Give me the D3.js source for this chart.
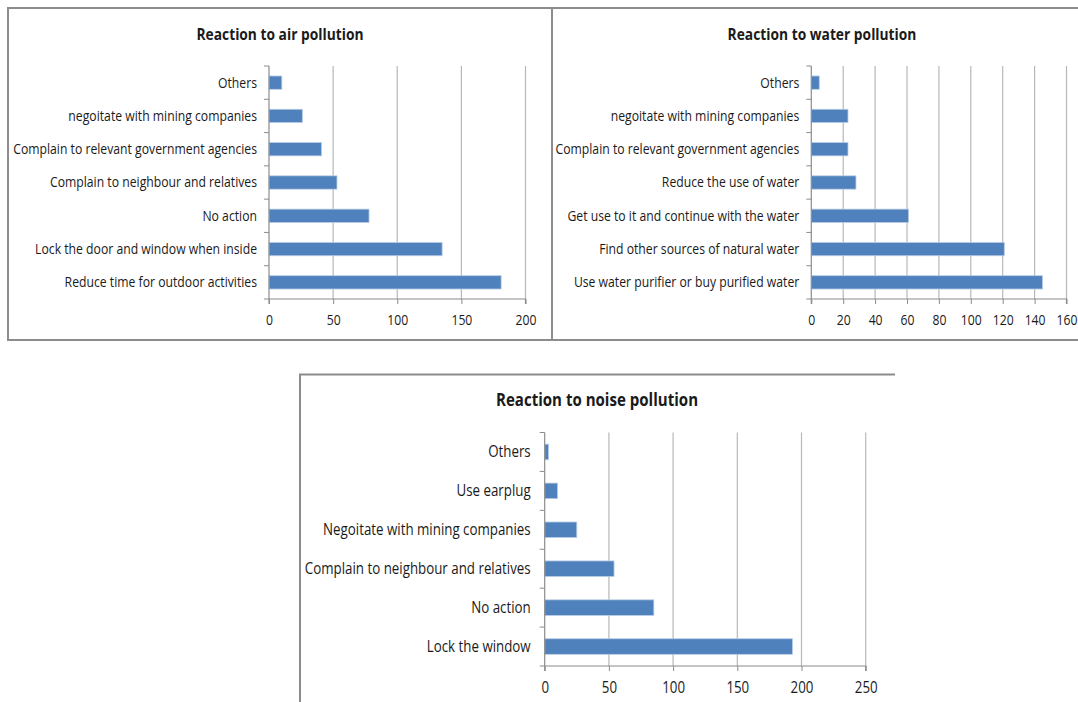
<!DOCTYPE html>
<html>
<head>
<meta charset="utf-8">
<script src="https://cdn.jsdelivr.net/npm/d3@7"></script>
<style>
  html, body { margin: 0; padding: 0; background: #fff; }
  svg { display: block; }
  text { font-family: "Open Sans", "Liberation Sans", sans-serif; fill: #1a1a1a; }
</style>
</head>
<body>
<svg id="chart" width="1078" height="702"></svg>
<script>
// Survey responses: how residents react to each kind of pollution (counts).
const airCategories = [
  "Others",
  "negoitate with mining companies",
  "Complain to relevant government agencies",
  "Complain to neighbour and relatives",
  "No action",
  "Lock the door and window when inside",
  "Reduce time for outdoor activities"
];
const airValues = [10, 26, 41, 53, 78, 135, 181];
const airTicks = [0, 50, 100, 150, 200];

const waterCategories = [
  "Others",
  "negoitate with mining companies",
  "Complain to relevant government agencies",
  "Reduce the use of water",
  "Get use to it and continue with the water",
  "Find other sources of natural water",
  "Use water purifier or buy purified water"
];
const waterValues = [5, 23, 23, 28, 61, 121, 145];
const waterTicks = [0, 20, 40, 60, 80, 100, 120, 140, 160];

const noiseCategories = [
  "Others",
  "Use earplug",
  "Negoitate with mining companies",
  "Complain to neighbour and relatives",
  "No action",
  "Lock the window"
];
const noiseValues = [3, 10, 25, 54, 85, 193];
const noiseTicks = [0, 50, 100, 150, 200, 250];

// horizontal squeeze that gives the text a condensed look
const SQUEEZE = 0.86;

const svg = d3.select("#chart");

// Panel frames
const frame = svg.append("g")
  .attr("fill", "none")
  .attr("stroke", "#8c8c8c")
  .attr("stroke-width", 2);
frame.append("path").attr("d", "M1078,8 H8 V340 H1078");
frame.append("line").attr("x1", 552).attr("x2", 552).attr("y1", 8).attr("y2", 340);
frame.append("path").attr("d", "M300,702 V374.5 H895");

function drawPanel(cfg) {
  const { title, categories, values, ticks, x0, x1, y0, y1, titleX, titleY, fs, labelGap, tickPad } = cfg;
  const g = svg.append("g");

  const x = d3.scaleLinear()
    .domain([ticks[0], ticks[ticks.length - 1]])
    .range([x0, x1]);
  const y = d3.scaleBand()
    .domain(categories)
    .range([y0, y1])
    .paddingInner(0.6)
    .paddingOuter(0.3);

  // title
  g.append("g")
    .attr("transform", `translate(${titleX},${titleY}) scale(${SQUEEZE},1)`)
    .append("text")
    .attr("text-anchor", "middle")
    .attr("font-weight", "bold")
    .attr("font-size", fs * 1.13)
    .text(title);

  // vertical gridlines
  g.append("g")
    .selectAll("line")
    .data(ticks.slice(1))
    .join("line")
    .attr("x1", d => x(d)).attr("x2", d => x(d))
    .attr("y1", y0).attr("y2", y1)
    .attr("stroke", "#b8b8b8")
    .attr("stroke-width", 1.2);

  // bars
  g.append("g")
    .selectAll("rect")
    .data(values)
    .join("rect")
    .attr("x", x(0))
    .attr("y", (d, i) => y(categories[i]))
    .attr("width", d => x(d) - x(0))
    .attr("height", y.bandwidth())
    .attr("fill", "#4f81bd")
    .attr("stroke", "#b9cde5")
    .attr("stroke-width", 0.8);

  // value axis along the bottom
  const xAxis = d3.axisBottom(x)
    .tickValues(ticks)
    .tickSize(5)
    .tickPadding(tickPad)
    .tickFormat(d3.format("d"));
  const xa = g.append("g")
    .attr("transform", `translate(0,${y1})`)
    .call(xAxis);
  xa.select(".domain").attr("stroke", "#8c8c8c").attr("stroke-width", 1.2)
    .attr("d", `M${x0},5V0H${x1}V5`);
  xa.selectAll(".tick line").attr("stroke", "#8c8c8c");
  xa.selectAll(".tick text")
    .attr("font-family", "'Open Sans', sans-serif")
    .attr("font-size", fs)
    .attr("fill", "#1a1a1a")
    .attr("transform", `scale(${SQUEEZE},1)`);

  // category axis on the left, tick marks on band boundaries
  const ya = g.append("g");
  ya.append("line")
    .attr("x1", x0).attr("x2", x0)
    .attr("y1", y0).attr("y2", y1)
    .attr("stroke", "#8c8c8c").attr("stroke-width", 1.2);
  const step = (y1 - y0) / categories.length;
  ya.selectAll("line.tk")
    .data(d3.range(categories.length + 1))
    .join("line")
    .attr("class", "tk")
    .attr("x1", x0 - 5).attr("x2", x0)
    .attr("y1", i => y0 + i * step).attr("y2", i => y0 + i * step)
    .attr("stroke", "#8c8c8c");
  ya.selectAll("g.lbl")
    .data(categories)
    .join("g")
    .attr("class", "lbl")
    .attr("transform", d => `translate(${x0 - labelGap},${y(d) + y.bandwidth() / 2}) scale(${SQUEEZE},1)`)
    .append("text")
    .attr("dy", "0.35em")
    .attr("text-anchor", "end")
    .attr("font-size", fs)
    .text(d => d);
}

drawPanel({
  title: "Reaction to air pollution",
  categories: airCategories, values: airValues, ticks: airTicks,
  x0: 269, x1: 525.5, y0: 66, y1: 299,
  titleX: 280, titleY: 40, fs: 14.2, labelGap: 12, tickPad: 11
});

drawPanel({
  title: "Reaction to water pollution",
  categories: waterCategories, values: waterValues, ticks: waterTicks,
  x0: 811.3, x1: 1066.5, y0: 66, y1: 299,
  titleX: 822, titleY: 40, fs: 14.2, labelGap: 12, tickPad: 11
});

drawPanel({
  title: "Reaction to noise pollution",
  categories: noiseCategories, values: noiseValues, ticks: noiseTicks,
  x0: 544.7, x1: 865.7, y0: 432.5, y1: 666,
  titleX: 597, titleY: 406, fs: 15.5, labelGap: 14, tickPad: 11
});
</script>
</body>
</html>
